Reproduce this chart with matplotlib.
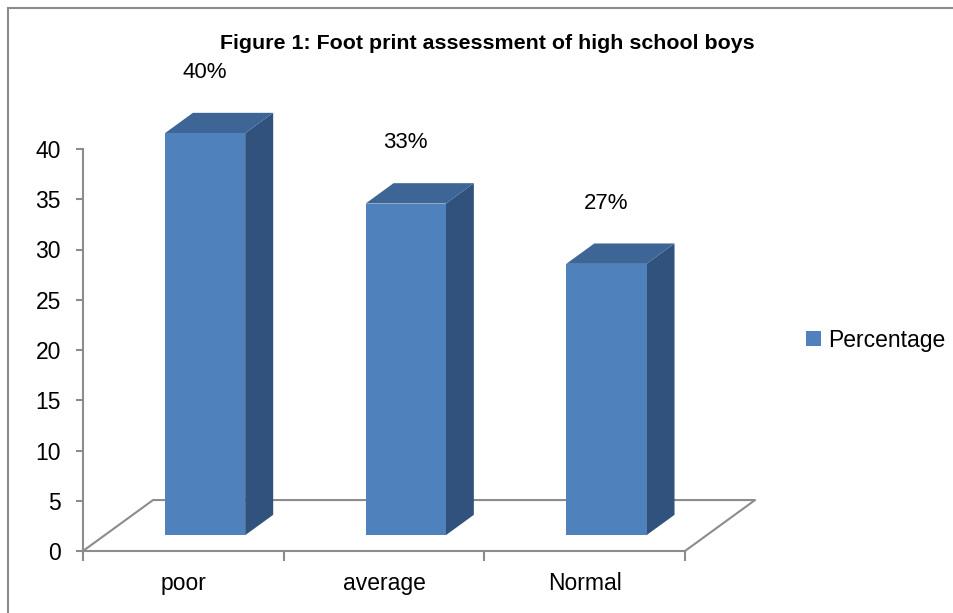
import matplotlib
matplotlib.use('Agg')
import matplotlib.pyplot as plt
from matplotlib.patches import Polygon, Patch
from matplotlib.lines import Line2D

plt.rcParams['font.family'] = ['Liberation Sans', 'DejaVu Sans']

categories = ['poor', 'average', 'Normal']
values = [40, 33, 27]
labels = ['40%', '33%', '27%']
series_name = 'Percentage'
title = 'Figure 1: Foot print assessment of high school boys'

front_col = '#4F81BD'
side_col = '#31527C'
top_col = '#3D6697'
grid_col = '#8C8C8C'

# depth of the floor (in category units / value units)
DX, DY = 0.349, 5.07
f1, f2 = 0.31, 0.71   # bar front/back depth fraction
bw = 0.4

W, H = 954, 613
fig = plt.figure(figsize=(W / 100, H / 100), dpi=100)
ax = fig.add_axes([83 / W, (H - 551) / H, 602 / W, 402 / H])
ax.set_xlim(-0.5, len(categories) - 0.5)
ax.set_ylim(0, 40)

# floor outline
n = len(categories)
ax.plot([-0.5, -0.5 + DX, n - 0.5 + DX, n - 0.5],
        [0, DY, DY, 0], color=grid_col, lw=1.5, clip_on=False, zorder=1)

for i, v in enumerate(values):
    x0 = i - bw / 2 + f1 * DX
    x1 = i + bw / 2 + f1 * DX
    y0 = f1 * DY
    y1 = v + f1 * DY
    ddx = (f2 - f1) * DX
    ddy = (f2 - f1) * DY
    side = Polygon([(x1, y0), (x1 + ddx, y0 + ddy), (x1 + ddx, y1 + ddy), (x1, y1)],
                   closed=True, facecolor=side_col, edgecolor='none', clip_on=False, zorder=3)
    top = Polygon([(x0, y1), (x0 + ddx, y1 + ddy), (x1 + ddx, y1 + ddy), (x1, y1)],
                  closed=True, facecolor=top_col, edgecolor='none', clip_on=False, zorder=3)
    front = Polygon([(x0, y0), (x1, y0), (x1, y1), (x0, y1)],
                    closed=True, facecolor=front_col, edgecolor='none', clip_on=False, zorder=4)
    ax.add_patch(side)
    ax.add_patch(top)
    ax.add_patch(front)
    ax.text((x0 + x1) / 2, v + 7.6, labels[i], ha='center', va='center',
            fontsize=16, color='black', clip_on=False)

for s in ['top', 'right']:
    ax.spines[s].set_visible(False)
ax.spines['left'].set_color(grid_col)
ax.spines['bottom'].set_color(grid_col)
ax.spines['left'].set_linewidth(1.5)
ax.spines['bottom'].set_linewidth(1.5)

ax.set_yticks(range(0, 41, 5))
ax.tick_params(axis='y', length=5, width=1.5, color=grid_col, labelsize=16.5, pad=11)
ax.set_xticks([k - 0.5 for k in range(n + 1)])
ax.set_xticklabels([])
ax.set_xticks(range(n), minor=True)
ax.set_xticklabels(categories, minor=True)
ax.tick_params(axis='x', which='major', length=7, width=1.5, color=grid_col)
ax.tick_params(axis='x', which='minor', length=0, labelsize=16.5, pad=15)
ax.set_facecolor('none')

fig.text(487 / W, 1 - 49 / H, title, ha='center', va='baseline',
         fontsize=15.4, fontweight='bold')

fig.legend(handles=[Patch(facecolor=front_col, edgecolor='none', label=series_name)],
           loc='center left', bbox_to_anchor=(806 / W, 1 - 340 / H), frameon=False,
           fontsize=16.5, handlelength=0.65, handleheight=0.65, handletextpad=0.3,
           borderpad=0, borderaxespad=0)

# chart border
fig.add_artist(Line2D([8 / W, 8 / W], [0, 1 - 8 / H], color=grid_col, lw=1.5))
fig.add_artist(Line2D([8 / W, 1], [1 - 8 / H, 1 - 8 / H], color=grid_col, lw=1.5))

fig.savefig('out.png', dpi=100)
